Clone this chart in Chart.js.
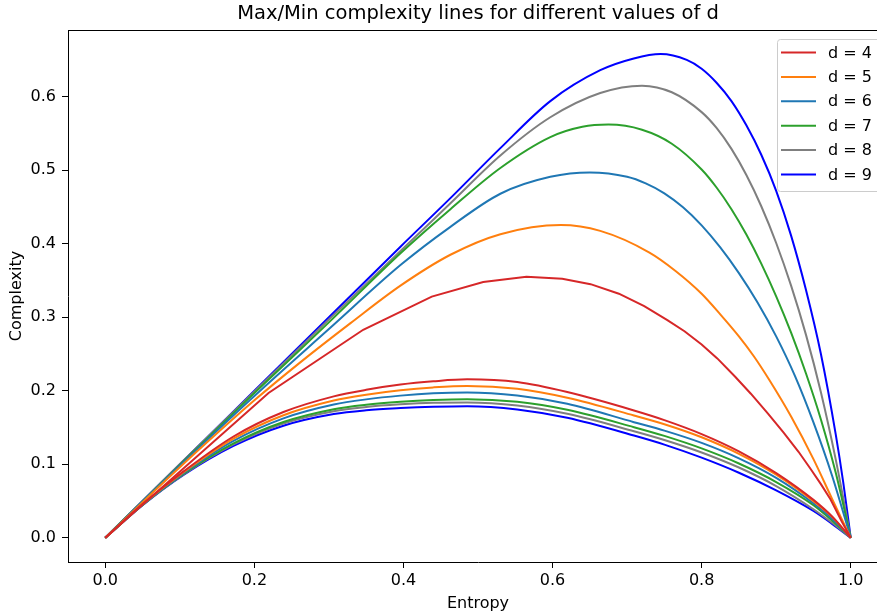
<!DOCTYPE html>
<html>
<head>
<meta charset="utf-8">
<script src="https://cdn.jsdelivr.net/npm/chart.js@4.4.0/dist/chart.umd.min.js"></script>
<style>
  html, body { margin: 0; padding: 0; background: #fff; overflow: hidden; width: 877px; height: 616px; }
  #wrap { position: relative; width: 900px; height: 616px; }
</style>
</head>
<body>
<div id="wrap"><canvas id="c" width="900" height="616"></canvas></div>
<script>
// Embedding dimensions and tick positions
const dimensions = [4, 5, 6, 7, 8, 9];
const seriesLabels = ['d = 4', 'd = 5', 'd = 6', 'd = 7', 'd = 8', 'd = 9'];
const entropyTicks = [0, 0.2, 0.4, 0.6, 0.8, 1.0];
const complexityTicks = [0, 0.1, 0.2, 0.3, 0.4, 0.5, 0.6];

// Maximum complexity curves, [entropy, complexity]
const maxD4 = [[0,0],[0.219,0.197],[0.346,0.283],[0.438,0.328],[0.507,0.348],[0.565,0.355],[0.613,0.3525],[0.651,0.345],[0.689,0.332],[0.723,0.315],[0.754,0.296],[0.777,0.281],[0.8,0.263],[0.821,0.244],[0.845,0.219],[0.866,0.196],[0.889,0.169],[0.91,0.143],[0.93,0.117],[0.946,0.094],[0.96,0.073],[0.973,0.052],[0.988,0.022],[1,0]];
const maxD5 = [[0,0],[0.1,0.096],[0.2,0.187],[0.262,0.239],[0.329,0.292],[0.396,0.343],[0.463,0.385],[0.53,0.413],[0.611,0.4255],[0.664,0.4175],[0.73,0.388],[0.765,0.363],[0.8,0.332],[0.825,0.304],[0.85,0.274],[0.87,0.247],[0.89,0.216],[0.92,0.165],[0.95,0.107],[0.975,0.053],[1,0]];
const maxD6 = [[0,0],[0.1,0.098],[0.2,0.193],[0.3,0.284],[0.396,0.371],[0.463,0.423],[0.53,0.468],[0.597,0.491],[0.65,0.497],[0.7,0.491],[0.725,0.482],[0.75,0.4685],[0.775,0.4495],[0.8,0.425],[0.825,0.395],[0.85,0.36],[0.875,0.32],[0.9,0.274],[0.925,0.2206],[0.95,0.157],[0.975,0.0845],[1,0]];
const maxD7 = [[0,0],[0.1,0.099],[0.2,0.197],[0.3,0.293],[0.396,0.387],[0.463,0.447],[0.53,0.503],[0.597,0.545],[0.64,0.559],[0.675,0.562],[0.72,0.555],[0.76,0.536],[0.8,0.501],[0.82,0.4765],[0.84,0.447],[0.86,0.4125],[0.88,0.373],[0.9,0.3285],[0.92,0.279],[0.94,0.2235],[0.96,0.161],[0.98,0.088],[1,0]];
const maxD8 = [[0,0],[0.1,0.1],[0.2,0.199],[0.3,0.297],[0.396,0.39],[0.463,0.455],[0.53,0.52],[0.597,0.572],[0.664,0.605],[0.72,0.615],[0.76,0.606],[0.8,0.579],[0.82,0.5575],[0.84,0.529],[0.86,0.4935],[0.88,0.451],[0.9,0.401],[0.92,0.343],[0.94,0.276],[0.96,0.198],[0.98,0.106],[1,0]];
const maxD9 = [[0,0],[0.1,0.1],[0.2,0.2],[0.3,0.3],[0.396,0.396],[0.463,0.462],[0.53,0.53],[0.597,0.594],[0.664,0.636],[0.709,0.652],[0.745,0.658],[0.78,0.65],[0.8,0.638],[0.82,0.619],[0.84,0.594],[0.86,0.561],[0.88,0.521],[0.9,0.472],[0.92,0.411],[0.94,0.337],[0.96,0.25],[0.98,0.14],[0.99,0.075],[1,0]];

// Minimum complexity curves, [entropy, complexity]
const minD4 = [[0,0],[0.05,0.0459],[0.105,0.0903],[0.172,0.1378],[0.239,0.1711],[0.3065,0.1924],[0.35,0.2013],[0.396,0.2084],[0.44,0.2128],[0.4855,0.2155],[0.5526,0.2118],[0.6197,0.1982],[0.7092,0.1732],[0.75,0.1601],[0.8,0.1411],[0.85,0.1176],[0.9,0.0881],[0.95,0.0516],[0.975,0.029],[1,0]];
const minD5 = [[0,0],[0.05,0.0455],[0.105,0.0892],[0.172,0.1348],[0.239,0.1667],[0.3065,0.1867],[0.35,0.1947],[0.396,0.2008],[0.44,0.2046],[0.4855,0.2066],[0.5526,0.2027],[0.6197,0.1905],[0.7092,0.1664],[0.75,0.1545],[0.8,0.1368],[0.85,0.1143],[0.9,0.0858],[0.95,0.0498],[0.975,0.0285],[1,0]];
const minD6 = [[0,0],[0.05,0.0452],[0.105,0.088],[0.172,0.1318],[0.239,0.1624],[0.3065,0.1812],[0.35,0.1883],[0.396,0.1934],[0.44,0.1966],[0.4855,0.1978],[0.5526,0.1936],[0.6197,0.1823],[0.7092,0.1573],[0.75,0.1458],[0.8,0.1291],[0.85,0.1081],[0.9,0.0816],[0.95,0.047],[0.975,0.026],[1,0]];
const minD7 = [[0,0],[0.05,0.0447],[0.105,0.0868],[0.172,0.1284],[0.239,0.1575],[0.3065,0.1749],[0.35,0.181],[0.396,0.185],[0.44,0.1875],[0.4855,0.1886],[0.5526,0.185],[0.6197,0.1741],[0.7092,0.1505],[0.75,0.1386],[0.8,0.1216],[0.85,0.1011],[0.9,0.0759],[0.95,0.0444],[0.975,0.0235],[1,0]];
const minD8 = [[0,0],[0.05,0.0446],[0.105,0.0863],[0.172,0.127],[0.239,0.1555],[0.3065,0.1722],[0.35,0.1779],[0.396,0.1815],[0.44,0.1837],[0.4855,0.1842],[0.5526,0.18],[0.6197,0.1687],[0.7092,0.145],[0.75,0.1331],[0.8,0.1161],[0.85,0.0956],[0.9,0.0704],[0.95,0.0389],[0.975,0.0204],[1,0]];
const minD9 = [[0,0],[0.05,0.0443],[0.105,0.0855],[0.172,0.125],[0.239,0.1525],[0.3065,0.1684],[0.35,0.1735],[0.396,0.1764],[0.44,0.1782],[0.4855,0.179],[0.5526,0.1746],[0.6197,0.1632],[0.7092,0.1391],[0.75,0.1268],[0.8,0.109],[0.85,0.0885],[0.9,0.0645],[0.95,0.0365],[0.975,0.019],[1,0]];

const maxCurves = [maxD4, maxD5, maxD6, maxD7, maxD8, maxD9];
const minCurves = [minD4, minD5, minD6, minD7, minD8, minD9];
const lineColors = ['#d62728', '#ff7f0e', '#1f77b4', '#2ca02c', '#7f7f7f', '#0000ff'];

const FONT = "'DejaVu Sans', 'Liberation Sans', sans-serif";
const toPoints = arr => arr.map(p => ({ x: p[0], y: p[1] }));

const datasets = [];
dimensions.forEach((d, i) => {
  datasets.push({
    label: seriesLabels[i],
    data: toPoints(maxCurves[i]),
    borderColor: lineColors[i],
    borderWidth: 2,
    showLine: true,
    pointRadius: 0,
    fill: false,
    tension: 0,
    cubicInterpolationMode: d === 4 ? 'default' : 'monotone'
  });
  datasets.push({
    label: seriesLabels[i] + ' (min)',
    data: toPoints(minCurves[i]),
    borderColor: lineColors[i],
    borderWidth: 2,
    showLine: true,
    pointRadius: 0,
    fill: false,
    cubicInterpolationMode: 'monotone'
  });
});

// Title, axis names, top spine and legend box
const decorations = {
  id: 'decorations',
  afterDraw(chart) {
    const ctx = chart.ctx;
    const a = chart.chartArea;
    ctx.save();
    ctx.strokeStyle = '#000';
    ctx.lineWidth = 1;
    ctx.beginPath();
    ctx.moveTo(a.left, a.top + 0.5);
    ctx.lineTo(a.right, a.top + 0.5);
    ctx.lineTo(a.right, a.bottom);
    ctx.stroke();

    ctx.fillStyle = '#000';
    ctx.textAlign = 'center';
    ctx.textBaseline = 'middle';
    ctx.font = '19.5px ' + FONT;
    ctx.fillText('Max/Min complexity lines for different values of d', (a.left + a.right) / 2, 14);

    ctx.font = '16px ' + FONT;
    ctx.fillText('Entropy', (a.left + a.right) / 2, 604);
    ctx.save();
    ctx.translate(17, (a.top + a.bottom) / 2);
    ctx.rotate(-Math.PI / 2);
    ctx.fillText('Complexity', 0, 0);
    ctx.restore();

    // legend
    const lx = 777, ly = 39, lw = 103, lh = 152;
    ctx.beginPath();
    ctx.roundRect(lx + 0.5, ly + 0.5, lw, lh, 3);
    ctx.fillStyle = 'rgba(255,255,255,0.8)';
    ctx.fill();
    ctx.strokeStyle = '#cccccc';
    ctx.stroke();
    ctx.font = '16px ' + FONT;
    ctx.textAlign = 'left';
    seriesLabels.forEach((lab, i) => {
      const y = 52.5 + i * 24.4;
      ctx.strokeStyle = lineColors[i];
      ctx.lineWidth = 2;
      ctx.beginPath();
      ctx.moveTo(781, y);
      ctx.lineTo(816, y);
      ctx.stroke();
      ctx.fillStyle = '#000';
      ctx.fillText(lab, 828, y + 1);
    });
    ctx.restore();
  }
};

const tickFont = { family: FONT, size: 16 };

new Chart(document.getElementById('c'), {
  type: 'scatter',
  data: { datasets },
  options: {
    responsive: false,
    animation: false,
    layout: { padding: { top: 30, right: 12, left: 0, bottom: 0 } },
    plugins: { legend: { display: false }, tooltip: { enabled: false }, title: { display: false } },
    scales: {
      x: {
        type: 'linear',
        min: -0.05,
        max: 1.05,
        afterBuildTicks: s => { s.ticks = entropyTicks.map(v => ({ value: v })); },
        afterFit: s => { s.height = 54; },
        ticks: { callback: v => Number(v).toFixed(1), font: tickFont, color: '#000', padding: 3, maxRotation: 0, autoSkip: false },
        grid: { display: true, drawOnChartArea: false, drawTicks: true, tickLength: 6, color: '#000' },
        border: { display: true, color: '#000', width: 1 }
      },
      y: {
        type: 'linear',
        min: -0.0329,
        max: 0.6907,
        afterBuildTicks: s => { s.ticks = complexityTicks.map(v => ({ value: v })); },
        afterFit: s => { s.width = 68; },
        ticks: { callback: v => Number(v).toFixed(1), font: tickFont, color: '#000', padding: 6, autoSkip: false },
        grid: { display: true, drawOnChartArea: false, drawTicks: true, tickLength: 6, color: '#000' },
        border: { display: true, color: '#000', width: 1 }
      }
    }
  },
  plugins: [decorations]
});
</script>
</body>
</html>
